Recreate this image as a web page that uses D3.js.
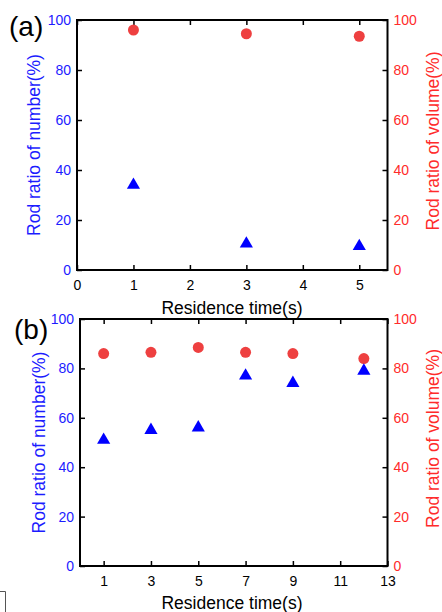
<!DOCTYPE html>
<html>
<head>
<meta charset="utf-8">
<script src="https://cdn.jsdelivr.net/npm/d3@7"></script>
<style>
body { margin: 0; background: #fff; }
svg { display: block; font-family: "Liberation Sans", Arial, sans-serif; }
</style>
</head>
<body>
<script>
// panel (a)
var timeA = [1, 3, 5];
var numberA = [34, 10.5, 9.5];
var volumeA = [96, 94.5, 93.5];
var ticksA = [0, 1, 2, 3, 4, 5];

// panel (b)
var timeB = [1, 3, 5, 7, 9, 12];
var numberB = [51, 55, 56, 77, 74, 79];
var volumeB = [86, 86.5, 88.5, 86.5, 86, 84];
var ticksB = [1, 3, 5, 7, 9, 11, 13];

var yTicks = [0, 20, 40, 60, 80, 100];

var blue = "#0000ff", red = "#ee4040";
var blueText = "#1c1cff", redText = "#ff2b2b";

var svg = d3.select("body").append("svg")
	.attr("width", 442)
	.attr("height", 612);

function panel(cfg) {
	var x = d3.scaleLinear().domain(cfg.xdom).range([cfg.left, cfg.right]);
	var y = d3.scaleLinear().domain([0, 100]).range([cfg.bottom, cfg.top]);
	var g = svg.append("g");

	// inward ticks, all four sides
	g.append("g").attr("transform", "translate(0," + cfg.bottom + ")")
		.call(d3.axisBottom(x).tickValues(cfg.xticks).tickSizeInner(-5).tickSizeOuter(0).tickPadding(10).tickFormat(d3.format("d")))
		.call(function(a) { a.select(".domain").remove(); a.selectAll("text").attr("fill", "#000").style("font-size", "14px"); });
	g.append("g").attr("transform", "translate(0," + cfg.top + ")")
		.call(d3.axisTop(x).tickValues(cfg.xticks).tickSizeInner(-5).tickSizeOuter(0).tickFormat(""))
		.call(function(a) { a.select(".domain").remove(); });
	g.append("g").attr("transform", "translate(" + cfg.left + ",0)")
		.call(d3.axisLeft(y).tickValues(yTicks).tickSizeInner(-5).tickSizeOuter(0).tickPadding(6))
		.call(function(a) { a.select(".domain").remove(); a.selectAll("text").attr("fill", blueText).style("font-size", "14px"); });
	g.append("g").attr("transform", "translate(" + cfg.right + ",0)")
		.call(d3.axisRight(y).tickValues(yTicks).tickSizeInner(-5).tickSizeOuter(0).tickPadding(6))
		.call(function(a) { a.select(".domain").remove(); a.selectAll("text").attr("fill", redText).style("font-size", "14px"); });
	g.selectAll(".tick line").attr("stroke", "#000").attr("stroke-width", 1.5);

	g.append("rect")
		.attr("x", cfg.left).attr("y", cfg.top)
		.attr("width", cfg.right - cfg.left).attr("height", cfg.bottom - cfg.top)
		.attr("fill", "none").attr("stroke", "#000").attr("stroke-width", 2);

	g.selectAll(".vol").data(cfg.time).enter().append("circle")
		.attr("cx", function(d) { return x(d); })
		.attr("cy", function(d, i) { return y(cfg.volume[i]); })
		.attr("r", 5.5)
		.attr("fill", red);

	var tri = d3.symbol().type(d3.symbolTriangle).size(75);
	g.selectAll(".num").data(cfg.time).enter().append("path")
		.attr("d", tri)
		.attr("transform", function(d, i) { return "translate(" + x(d) + "," + y(cfg.number[i]) + ")"; })
		.attr("fill", blue);

	var mid = (cfg.top + cfg.bottom) / 2;
	g.append("text")
		.attr("transform", "translate(" + cfg.leftLabelX + "," + mid + ")rotate(-90)")
		.attr("text-anchor", "middle")
		.attr("fill", blueText)
		.style("font-size", "17.5px")
		.text("Rod ratio of number(%)");
	g.append("text")
		.attr("transform", "translate(439," + (mid - 4) + ")rotate(-90)")
		.attr("text-anchor", "middle")
		.attr("fill", redText)
		.style("font-size", "17.5px")
		.text("Rod ratio of volume(%)");
	g.append("text")
		.attr("x", 232).attr("y", cfg.xlabelY)
		.attr("text-anchor", "middle")
		.style("font-size", "17.5px")
		.text("Residence time(s)");
	g.append("text")
		.attr("x", cfg.tagX).attr("y", cfg.tagY)
		.style("font-size", "28px")
		.text(cfg.tag);
}

panel({ left: 77, right: 387.5, top: 20, bottom: 270, xdom: [0, 5.5], xticks: ticksA,
	time: timeA, number: numberA, volume: volumeA, leftLabelX: 40, xlabelY: 314, tag: "(a)", tagX: 9, tagY: 36 });
panel({ left: 80, right: 387.5, top: 319, bottom: 566, xdom: [0, 13], xticks: ticksB,
	time: timeB, number: numberB, volume: volumeB, leftLabelX: 45, xlabelY: 609, tag: "(b)", tagX: 14, tagY: 339 });

// stray box edge in lower-left corner of the source image
svg.append("path")
	.attr("d", "M0,591.5H5.5V612")
	.attr("fill", "none").attr("stroke", "#555").attr("stroke-width", 1);
</script>
</body>
</html>
